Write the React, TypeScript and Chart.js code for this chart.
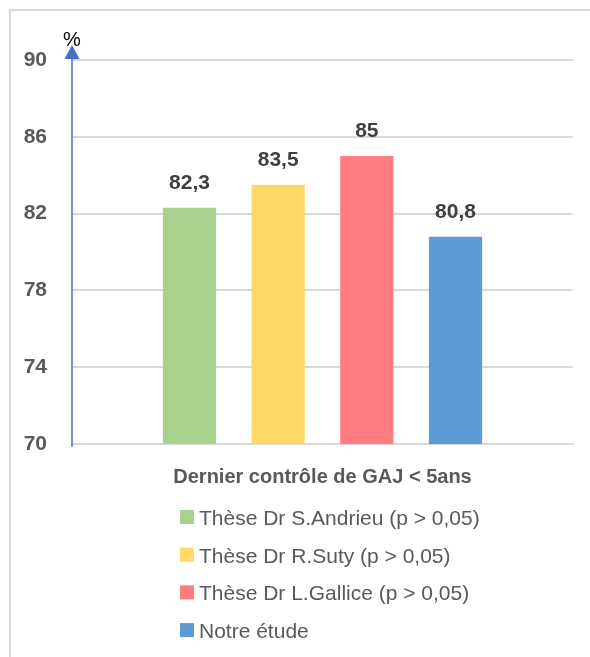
import React, { useEffect, useRef } from "react";
import { Chart, registerables } from "chart.js";

Chart.register(...registerables);

const categories = ["Dernier contrôle de GAJ < 5ans"];
const seriesNames = [
  "Thèse Dr S.Andrieu (p > 0,05)",
  "Thèse Dr R.Suty (p > 0,05)",
  "Thèse Dr L.Gallice (p > 0,05)",
  "Notre étude",
];
const seriesValues = [82.3, 83.5, 85, 80.8];
const seriesColors = ["#A9D18E", "#FFD966", "#FF7C80", "#5B9BD5"];
const yMin = 70;
const yMax = 90;
const yStep = 4;
const yUnit = "%";

const FONT = "'Liberation Sans', Arial, sans-serif";

const decorPlugin = {
  id: "decor",
  beforeDraw(chart: any) {
    const ctx = chart.ctx;
    ctx.save();
    ctx.fillStyle = "#ffffff";
    ctx.fillRect(0, 0, chart.width, chart.height);
    ctx.fillStyle = "#d9d9d9";
    ctx.fillRect(9, 9, chart.width - 9, 2);
    ctx.fillRect(9, 9, 2, chart.height - 9);
    ctx.restore();
  },
  afterDatasetsDraw(chart: any) {
    const ctx = chart.ctx;
    const area = chart.chartArea;
    ctx.save();
    // data labels
    ctx.font = `bold 21px ${FONT}`;
    ctx.fillStyle = "#404040";
    ctx.textAlign = "center";
    ctx.textBaseline = "alphabetic";
    chart.data.datasets.forEach((ds: any, i: number) => {
      const meta = chart.getDatasetMeta(i);
      meta.data.forEach((bar: any, j: number) => {
        const v = ds.data[j];
        ctx.fillText(String(v).replace(".", ","), bar.x, bar.y - 19);
      });
    });
    // y axis line with arrow
    const x = area.left;
    ctx.strokeStyle = "#4472C4";
    ctx.lineWidth = 1.5;
    ctx.beginPath();
    ctx.moveTo(x, area.bottom + 3);
    ctx.lineTo(x, area.top - 2);
    ctx.stroke();
    ctx.fillStyle = "#4472C4";
    ctx.beginPath();
    ctx.moveTo(x - 7.5, area.top - 1);
    ctx.lineTo(x + 7.5, area.top - 1);
    ctx.lineTo(x, area.top - 15);
    ctx.closePath();
    ctx.fill();
    // unit
    ctx.fillStyle = "#000000";
    ctx.font = `20px ${FONT}`;
    ctx.textBaseline = "alphabetic";
    ctx.fillText(yUnit, x, area.top - 14);
    // legend
    ctx.font = `21px ${FONT}`;
    ctx.textAlign = "left";
    const rowTop = 510;
    const rowGap = 37.7;
    seriesNames.forEach((name, i) => {
      const y = rowTop + i * rowGap;
      ctx.fillStyle = seriesColors[i];
      ctx.fillRect(180, y, 14, 14);
      ctx.fillStyle = "#595959";
      ctx.fillText(name, 199, y + 15);
    });
    ctx.restore();
  },
};

export default function App() {
  const ref = useRef<HTMLCanvasElement>(null);
  useEffect(() => {
    if (!ref.current) return;
    const chart = new Chart(ref.current, {
      type: "bar",
      data: {
        labels: categories,
        datasets: seriesNames.map((name, i) => ({
          label: name,
          data: [seriesValues[i]],
          backgroundColor: seriesColors[i],
          borderWidth: 0,
          categoryPercentage: 0.708,
          barPercentage: 0.6,
        })),
      },
      options: {
        responsive: false,
        animation: false,
        layout: { padding: { left: 0, right: 17, top: 60, bottom: 153 } },
        plugins: {
          legend: { display: false },
          tooltip: { enabled: false },
          title: { display: false },
        },
        scales: {
          x: {
            grid: { display: false, drawTicks: false },
            border: { display: true, color: "#d9d9d9", width: 2 },
            ticks: {
              color: "#595959",
              font: { family: FONT, size: 20, weight: "bold" },
              padding: 21,
              maxRotation: 0,
            },
            afterFit(scale: any) {
              scale.height = 60;
            },
          },
          y: {
            min: yMin,
            max: yMax,
            grid: { color: "#d9d9d9", lineWidth: 2, drawTicks: false },
            border: { display: false },
            ticks: {
              stepSize: yStep,
              color: "#595959",
              font: { family: FONT, size: 21, weight: "bold" },
              padding: 25,
            },
            afterFit(scale: any) {
              scale.width = 72;
            },
          },
        },
      },
      plugins: [decorPlugin],
    });
    return () => chart.destroy();
  }, []);
  return (
    <div style={{ position: "fixed", left: 0, top: 0, width: 590, height: 657, background: "#fff" }}>
      <canvas ref={ref} width={590} height={657} style={{ display: "block" }} />
    </div>
  );
}
